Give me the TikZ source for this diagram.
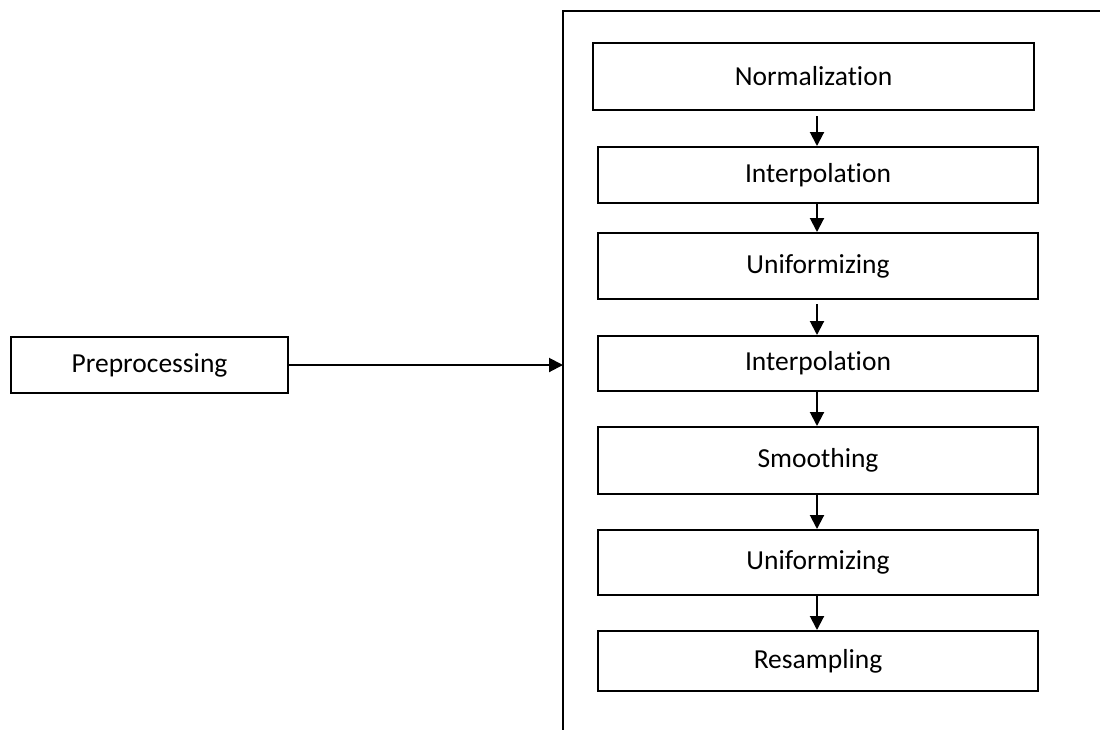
\documentclass[tikz,border=0pt]{standalone}
\usepackage{fontspec}
\setmainfont[Ligatures={NoCommon}]{Carlito}
\usetikzlibrary{arrows.meta}
\begin{document}
\begin{tikzpicture}[x=1pt,y=-1pt,
  stepbox/.style={draw=black, line width=2pt, inner sep=0pt, font=\fontsize{27.5}{33}\selectfont},
  arr/.style={line width=2pt, -{Triangle[length=14pt,width=14pt]}}]
\useasboundingbox (0,0) rectangle (1100,729);
% outer frame (only top and left edges visible)
\draw[line width=2pt] (1101,11) -- (563,11) -- (563,730);
\node[stepbox, minimum width=441pt, minimum height=67pt] (n1) at (813.5,76.5) {Normalization};
\node[stepbox, minimum width=440pt, minimum height=56pt] (n2) at (818,175) {Interpolation};
\node[stepbox, minimum width=440pt, minimum height=66pt] (n3) at (818,266) {Uniformizing};
\node[stepbox, minimum width=440pt, minimum height=55pt] (n4) at (818,363.5) {Interpolation};
\node[stepbox, minimum width=440pt, minimum height=67pt] (n5) at (818,460.5) {Smoothing};
\node[stepbox, minimum width=440pt, minimum height=65pt] (n6) at (818,562.5) {Uniformizing};
\node[stepbox, minimum width=440pt, minimum height=60pt] (n7) at (818,661) {Resampling};
\node[stepbox, minimum width=277pt, minimum height=56pt] (pre) at (149.5,365) {Preprocessing};
\coordinate (ax) at (817,0);
\coordinate (boxl) at (563,365);
\draw[arr] ([yshift=-5pt]n1.south -| ax) -- (n2.north -| ax);
\draw[arr] (n2.south -| ax) -- (n3.north -| ax);
\draw[arr] ([yshift=-4pt]n3.south -| ax) -- (n4.north -| ax);
\draw[arr] (n4.south -| ax) -- (n5.north -| ax);
\draw[arr] (n5.south -| ax) -- (n6.north -| ax);
\draw[arr] (n6.south -| ax) -- (n7.north -| ax);
\draw[arr] (pre.east) -- (boxl);
\end{tikzpicture}
\end{document}
